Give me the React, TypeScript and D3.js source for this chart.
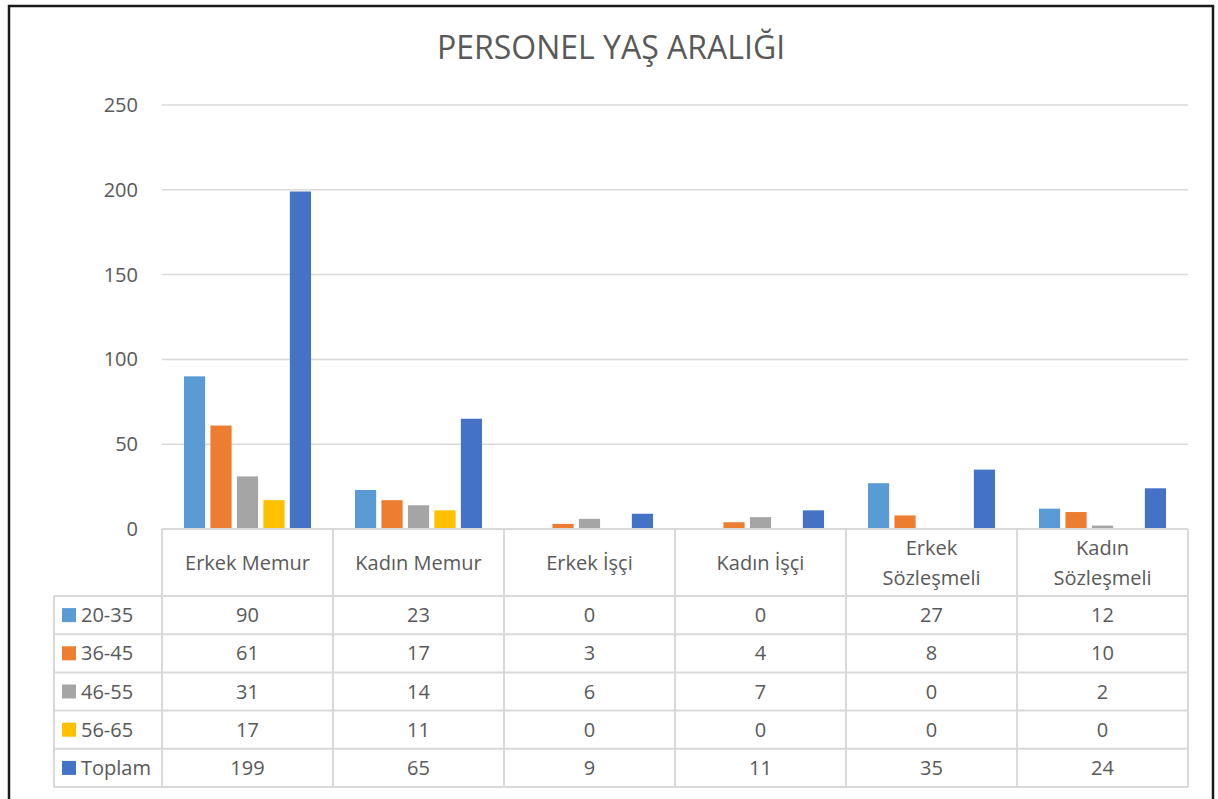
import React from 'react';
import * as d3 from 'd3';

const categories = ['Erkek Memur', 'Kadın Memur', 'Erkek İşçi', 'Kadın İşçi', 'Erkek Sözleşmeli', 'Kadın Sözleşmeli'];
const seriesNames = ['20-35', '36-45', '46-55', '56-65', 'Toplam'];
const s2035 = [90, 23, 0, 0, 27, 12];
const s3645 = [61, 17, 3, 4, 8, 10];
const s4655 = [31, 14, 6, 7, 0, 2];
const s5665 = [17, 11, 0, 0, 0, 0];
const sToplam = [199, 65, 9, 11, 35, 24];
const yTicks = [0, 50, 100, 150, 200, 250];
const colors = ['#5B9BD5', '#ED7D31', '#A5A5A5', '#FFC000', '#4472C4'];

const allSeries = [s2035, s3645, s4655, s5665, sToplam];

const W = 1218;
const H = 799;
const plot = { left: 162, right: 1188, top: 105, bottom: 529 };
const rowH = 38.2;
const headerBottom = 596;
const tableLeft = 54;
const font = "'Open Sans', sans-serif";
const textColor = '#595959';
const lineColor = '#d9d9d9';

// header labels wrap like Excel does
const headerLines: Record<string, string[]> = {
  'Erkek Sözleşmeli': ['Erkek', 'Sözleşmeli'],
  'Kadın Sözleşmeli': ['Kadın', 'Sözleşmeli'],
};

const App = () => {
  const x = d3.scaleBand<string>().domain(categories).range([plot.left, plot.right]).paddingInner(0).paddingOuter(0);
  const xInner = d3.scaleBand<string>().domain(seriesNames).range([0, x.bandwidth()]).paddingInner(0.2).paddingOuter(0.83);
  const y = d3.scaleLinear().domain([0, 250]).range([plot.bottom, plot.top]);

  const tableBottom = headerBottom + rowH * seriesNames.length;
  const colEdges = categories.map(c => x(c)!).concat([plot.right]);

  return (
    <svg width={W} height={H} style={{ position: 'absolute', left: 0, top: 0, background: '#fff' }} fontFamily={font}>
      <rect x={9} y={6} width={1204} height={H} fill="#fff" stroke="#1a1a1a" strokeWidth={2.5} />
      <text x={611} y={59} textAnchor="middle" fontSize={32} fill={textColor}>PERSONEL YAŞ ARALIĞI</text>

      {yTicks.map(t => (
        <g key={t}>
          {t > 0 && <line x1={plot.left} x2={plot.right} y1={y(t)} y2={y(t)} stroke={lineColor} strokeWidth={1.5} />}
          <text x={138} y={y(t)} dy="0.35em" textAnchor="end" fontSize={20} fill={textColor}>{t}</text>
        </g>
      ))}

      {allSeries.map((vals, si) => (
        <g key={si} fill={colors[si]}>
          {vals.map((v, ci) => (
            <rect key={ci} x={x(categories[ci])! + xInner(seriesNames[si])!} y={y(v)} width={xInner.bandwidth()} height={plot.bottom - y(v)} />
          ))}
        </g>
      ))}

      {/* data table */}
      <g stroke={lineColor} strokeWidth={2}>
        <line x1={plot.left} x2={plot.right} y1={plot.bottom} y2={plot.bottom} />
        {colEdges.map((e, i) => (
          <line key={i} x1={e} x2={e} y1={plot.bottom} y2={tableBottom} />
        ))}
        <line x1={tableLeft} x2={tableLeft} y1={headerBottom} y2={tableBottom} />
        {seriesNames.map((_, i) => (
          <line key={i} x1={tableLeft} x2={plot.right} y1={headerBottom + rowH * i} y2={headerBottom + rowH * i} />
        ))}
        <line x1={tableLeft} x2={plot.right} y1={tableBottom} y2={tableBottom} />
      </g>

      {categories.map(c => {
        const cx = x(c)! + x.bandwidth() / 2;
        const lines = headerLines[c] || [c];
        const mid = (plot.bottom + headerBottom) / 2;
        return (
          <text key={c} textAnchor="middle" fontSize={20} fill={textColor}>
            {lines.map((l, i) => (
              <tspan key={i} x={cx} y={mid + (i - (lines.length - 1) / 2) * 30} dy="0.35em">{l}</tspan>
            ))}
          </text>
        );
      })}

      {seriesNames.map((s, si) => {
        const cy = headerBottom + rowH * si + rowH / 2;
        return (
          <g key={s}>
            <rect x={62} y={cy - 7} width={14} height={14} fill={colors[si]} />
            <text x={81} y={cy} dy="0.35em" fontSize={20} fill={textColor}>{s}</text>
            {allSeries[si].map((v, ci) => (
              <text key={ci} x={x(categories[ci])! + x.bandwidth() / 2} y={cy} dy="0.35em" textAnchor="middle" fontSize={20} fill={textColor}>{v}</text>
            ))}
          </g>
        );
      })}
    </svg>
  );
};

export default App;
